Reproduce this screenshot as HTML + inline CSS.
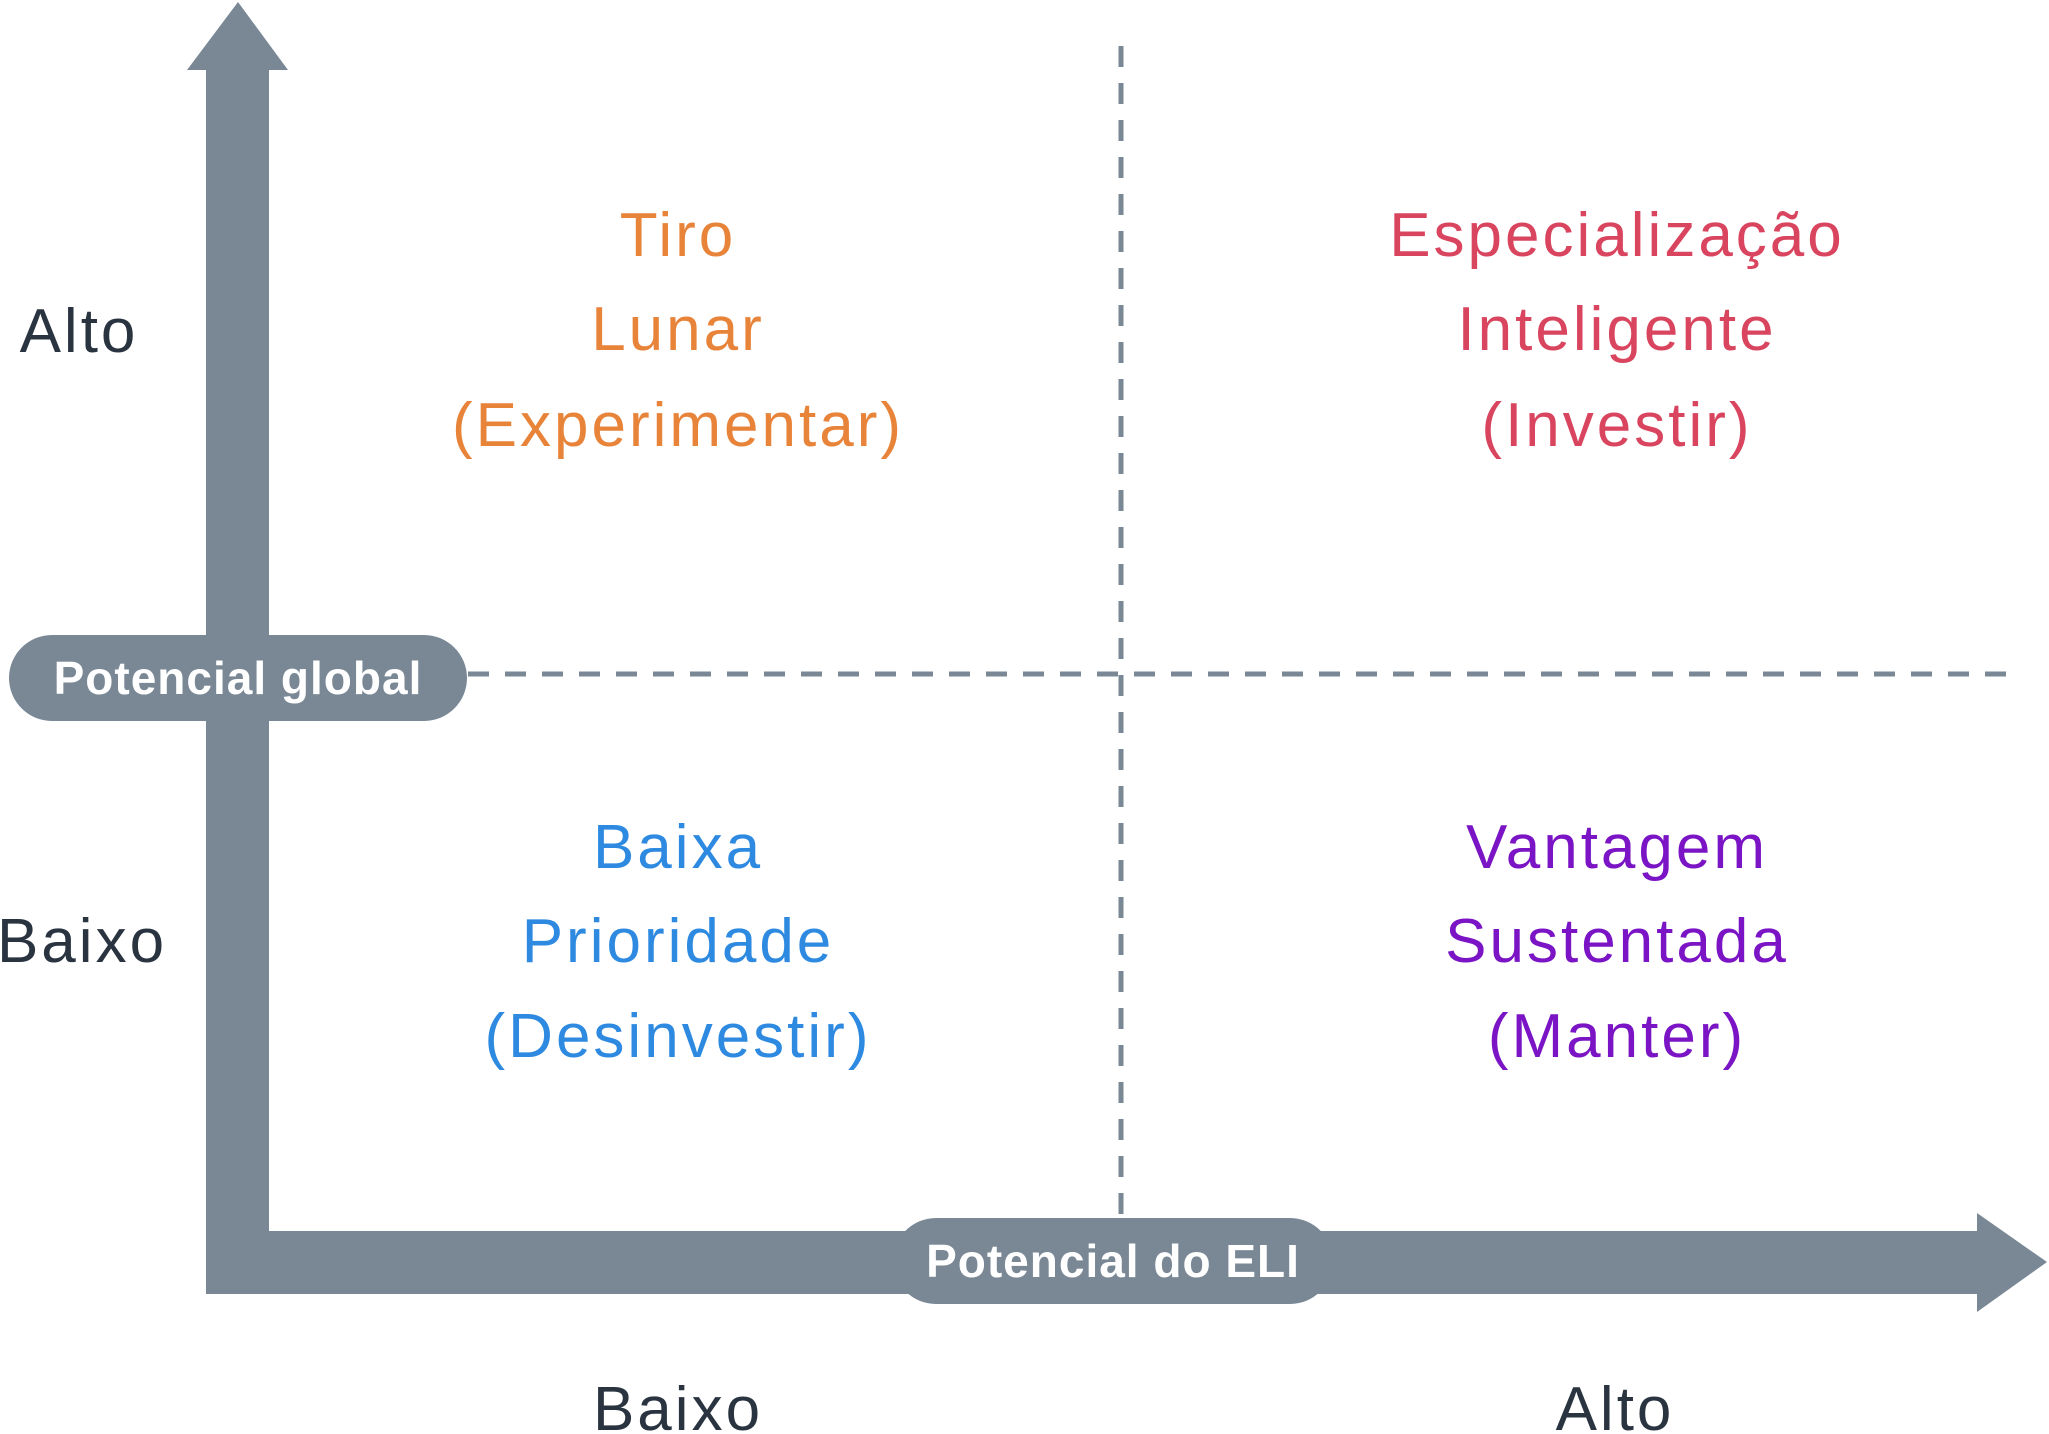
<!DOCTYPE html>
<html><head><meta charset="utf-8"><style>
html,body{margin:0;padding:0;background:#fff;}
svg{display:block;}
text{font-family:"Liberation Sans","DejaVu Sans",sans-serif;}
</style></head><body>
<svg width="2049" height="1434" viewBox="0 0 2049 1434" xmlns="http://www.w3.org/2000/svg">
<g fill="#7a8896">
<rect x="206" y="70" width="63" height="1224"/>
<polygon points="238,2 288,70 187,70"/>
<rect x="206" y="1231" width="1775" height="63"/>
<polygon points="1977,1213 2047,1262 1977,1312"/>
</g>
<g stroke="#7a8896" stroke-width="5" stroke-dasharray="21,16" fill="none">
<line x1="1121" y1="46" x2="1121" y2="1215"/>
<line x1="468" y1="674" x2="2006" y2="674"/>
</g>
<rect x="9" y="635" width="458" height="86" rx="43" fill="#7a8896"/>
<text x="238" y="694" font-size="46" font-weight="bold" fill="#fff" text-anchor="middle" letter-spacing="1">Potencial global</text>
<rect x="893" y="1218" width="440" height="86" rx="43" fill="#7a8896"/>
<text x="1113" y="1277" font-size="46" font-weight="bold" fill="#fff" text-anchor="middle" letter-spacing="1">Potencial do ELI</text>
<g font-size="62" text-anchor="middle" letter-spacing="3">
<g fill="#e8843a">
<text x="678" y="256">Tiro</text>
<text x="678" y="350">Lunar</text>
<text x="678" y="446">(Experimentar)</text>
</g>
<g fill="#d9455f">
<text x="1617" y="256">Especialização</text>
<text x="1617" y="350">Inteligente</text>
<text x="1617" y="446">(Investir)</text>
</g>
<g fill="#2e8ae0">
<text x="678" y="868">Baixa</text>
<text x="678" y="962">Prioridade</text>
<text x="678" y="1057">(Desinvestir)</text>
</g>
<g fill="#7a14c4">
<text x="1617" y="868">Vantagem</text>
<text x="1617" y="962">Sustentada</text>
<text x="1617" y="1057">(Manter)</text>
</g>
<g fill="#2a3440">
<text x="678" y="1430">Baixo</text>
<text x="1615" y="1430">Alto</text>
<text x="79" y="352">Alto</text>
<text x="82" y="962">Baixo</text>
</g>
</g>
</svg>
</body></html>
